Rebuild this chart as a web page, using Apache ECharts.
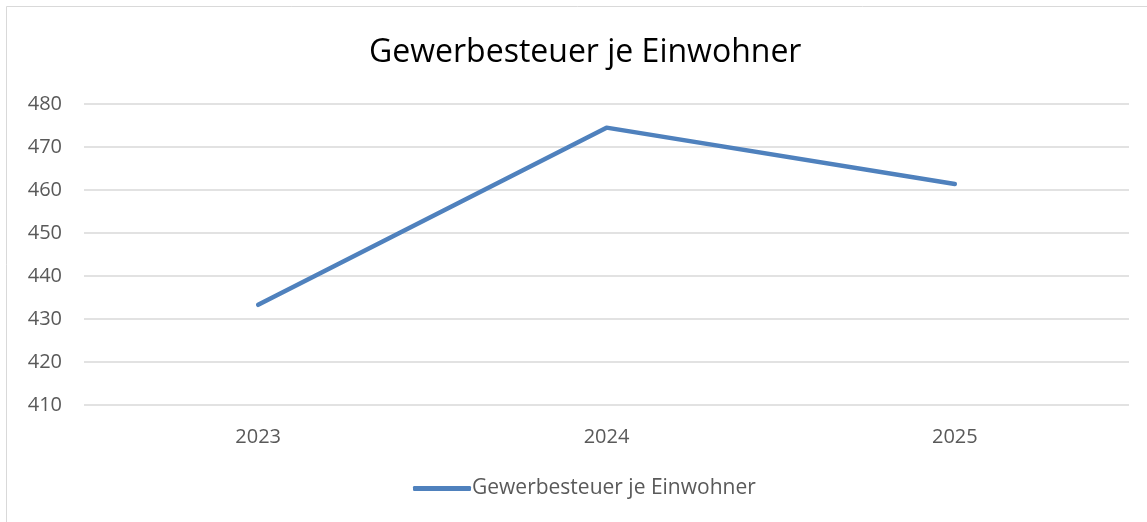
<!DOCTYPE html>
<html>
<head>
<meta charset="utf-8">
<script src="https://cdn.jsdelivr.net/npm/echarts@6/dist/echarts.min.js"></script>
<style>
  html, body { margin: 0; padding: 0; background: #fff; }
  #chart { width: 1147px; height: 522px; }
</style>
</head>
<body>
<div id="chart"></div>
<script>
// Daten
const years = ['2023', '2024', '2025'];
const gewerbesteuer = [433.3, 474.5, 461.4];
const seriesName = 'Gewerbesteuer je Einwohner';

let chart = echarts.init(document.getElementById('chart'));

const option = {
    backgroundColor: '#fff',
    animation: false,
    title: {
        text: 'Gewerbesteuer je Einwohner',
        left: 364,
        top: 32,
        textStyle: {
            fontFamily: 'Open Sans',
            fontWeight: 'normal',
            fontSize: 32,
            color: '#000'
        }
    },
    graphic: [
        {
            type: 'rect',
            shape: { x: 6.5, y: 6.5, width: 1160, height: 540 },
            style: { fill: 'none', stroke: '#d9d9d9', lineWidth: 1 },
            silent: true
        }
    ],
    legend: {
        bottom: 18,
        left: 408,
        itemWidth: 58,
        itemHeight: 5,
        itemGap: 4,
        icon: 'roundRect',
        textStyle: {
            fontFamily: 'Open Sans',
            fontSize: 21,
            color: '#595959',
            padding: [0, 0, 0, -4]
        },
        data: [seriesName]
    },
    grid: {
        left: 84,
        right: 18,
        top: 104,
        bottom: 117,
        containLabel: false
    },
    xAxis: {
        type: 'category',
        data: years,
        boundaryGap: true,
        axisLine: { show: false },
        axisTick: { show: false },
        axisLabel: {
            fontFamily: 'Open Sans',
            fontSize: 20,
            color: '#595959',
            margin: 22
        }
    },
    yAxis: {
        type: 'value',
        min: 410,
        max: 480,
        interval: 10,
        axisLine: { show: false },
        axisTick: { show: false },
        axisLabel: {
            fontFamily: 'Open Sans',
            fontSize: 20,
            color: '#595959',
            margin: 22
        },
        splitLine: { lineStyle: { color: '#d9d9d9', width: 1.5 } }
    },
    series: [
        {
            name: seriesName,
            type: 'line',
            data: gewerbesteuer,
            showSymbol: false,
            symbol: 'none',
            color: '#4f81bd',
            lineStyle: { width: 4.5, color: '#4f81bd', cap: 'round', join: 'round' }
        }
    ]
};

chart.setOption(option);
</script>
</body>
</html>
